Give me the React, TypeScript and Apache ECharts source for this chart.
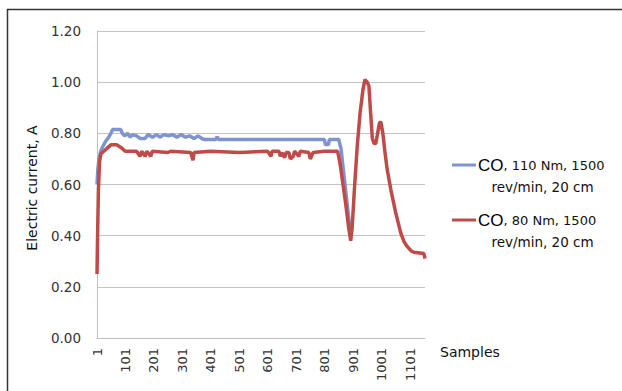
import React, { useEffect, useRef } from "react";
import * as echarts from "echarts";

// Tick labels / axis
const yTicks = [0, 0.2, 0.4, 0.6, 0.8, 1.0, 1.2];
const xLabelStep = 100;
const sampleCount = 1153;

// Series names (legend)
const seriesNames = ["CO, 110 Nm, 1500 rev/min, 20 cm", "CO, 80 Nm, 1500 rev/min, 20 cm"];
const legendMain = [", 110 Nm, 1500", ", 80 Nm, 1500"];
const legendSub = ["rev/min, 20 cm", "rev/min, 20 cm"];
const colors = ["#7F92D2", "#BE4B48"];

// Blue series: CO, 110 Nm
const blueSamples = [1, 4, 8, 14, 22, 32, 42, 50, 56, 84, 90, 98, 108, 118, 126, 140, 152, 170, 180, 196, 210, 222, 236, 252, 266, 282, 296, 312, 326, 342, 356, 372, 380, 418, 423, 428, 800, 803, 814, 817, 850, 858, 868, 878, 888, 893];
const blueValues = [0.6, 0.66, 0.7, 0.73, 0.75, 0.77, 0.785, 0.8, 0.815, 0.815, 0.8, 0.79, 0.8, 0.785, 0.795, 0.79, 0.78, 0.78, 0.795, 0.785, 0.795, 0.785, 0.795, 0.79, 0.795, 0.785, 0.795, 0.785, 0.79, 0.78, 0.79, 0.778, 0.776, 0.776, 0.786, 0.776, 0.776, 0.756, 0.756, 0.776, 0.776, 0.74, 0.64, 0.54, 0.44, 0.41];

// Red series: CO, 80 Nm
const redSamples = [1, 3, 6, 10, 15, 25, 40, 50, 70, 85, 95, 100, 140, 152, 158, 170, 176, 190, 195, 250, 260, 330, 338, 342, 400, 500, 600, 612, 616, 640, 645, 650, 660, 665, 675, 680, 690, 695, 710, 715, 745, 750, 760, 800, 846, 855, 865, 875, 885, 892, 897, 905, 915, 925, 935, 942, 950, 956, 962, 968, 974, 980, 985, 993, 998, 1005, 1012, 1020, 1033, 1050, 1068, 1080, 1091, 1105, 1114, 1149, 1153];
const redValues = [0.25, 0.4, 0.58, 0.69, 0.72, 0.73, 0.745, 0.755, 0.755, 0.745, 0.735, 0.73, 0.73, 0.71, 0.73, 0.71, 0.73, 0.71, 0.73, 0.725, 0.73, 0.725, 0.695, 0.725, 0.73, 0.725, 0.73, 0.71, 0.73, 0.73, 0.71, 0.725, 0.705, 0.725, 0.725, 0.7, 0.71, 0.73, 0.71, 0.73, 0.725, 0.7, 0.725, 0.73, 0.73, 0.68, 0.6, 0.52, 0.43, 0.38, 0.43, 0.58, 0.75, 0.88, 0.97, 1.01, 1.0, 0.985, 0.88, 0.78, 0.76, 0.76, 0.79, 0.84, 0.845, 0.8, 0.73, 0.66, 0.58, 0.49, 0.41, 0.375, 0.357, 0.34, 0.335, 0.33, 0.31];

const toData = (s: number[], v: number[]) => s.map((x, i) => [x - 1, v[i]]);

export default function App() {
  const ref = useRef<HTMLDivElement>(null);
  useEffect(() => {
    if (!ref.current) return;
    const chart = echarts.init(ref.current, undefined, { renderer: "svg" });
    const font = "DejaVu Sans";
    const legendY = [165, 220];
    const legendGraphics: any[] = [];
    seriesNames.forEach((_, i) => {
      legendGraphics.push({
        type: "line",
        shape: { x1: 452, y1: legendY[i], x2: 476, y2: legendY[i] },
        style: { stroke: colors[i], lineWidth: 3 },
      });
      legendGraphics.push({
        type: "text",
        x: 478,
        y: legendY[i],
        style: {
          text: "{co|CO}{t|" + legendMain[i] + "}",
          rich: {
            co: { fontFamily: "Liberation Sans", fontSize: 17, fill: "#000" },
            t: { fontFamily: font, fontSize: 13, fill: "#111" },
          },
          align: "left",
          verticalAlign: "middle",
        },
      });
      legendGraphics.push({
        type: "text",
        x: 542.5,
        y: legendY[i] + 22,
        style: {
          text: legendSub[i],
          fontFamily: font,
          fontSize: 13.5,
          fill: "#111",
          align: "center",
          verticalAlign: "middle",
        },
      });
    });
    chart.setOption({
      animation: false,
      backgroundColor: "#fff",
      grid: { left: 97, top: 31, right: 197, bottom: 53, containLabel: false },
      xAxis: {
        type: "value",
        min: 0,
        max: sampleCount - 1,
        interval: xLabelStep,
        axisLine: { show: true, lineStyle: { color: "#bfbfbf", width: 1 } },
        axisTick: { show: false },
        splitLine: { show: false },
        axisLabel: {
          rotate: 90,
          margin: 10,
          showMaxLabel: false,
          fontFamily: font,
          fontSize: 13,
          color: "#333",
          formatter: (v: number) => (v % xLabelStep === 0 ? String(v + 1) : ""),
        },
      },
      yAxis: {
        type: "value",
        min: yTicks[0],
        max: yTicks[yTicks.length - 1],
        interval: 0.2,
        axisLine: { show: true, lineStyle: { color: "#bfbfbf", width: 1 } },
        axisTick: { show: false },
        splitLine: { show: true, lineStyle: { color: "#c4c4c4", width: 1 } },
        axisLabel: {
          margin: 16,
          fontFamily: font,
          fontSize: 13.5,
          color: "#333",
          formatter: (v: number) => v.toFixed(2),
        },
      },
      series: [
        {
          name: seriesNames[0],
          type: "line",
          data: toData(blueSamples, blueValues),
          showSymbol: false,
          symbol: "none",
          lineStyle: { color: colors[0], width: 3.5 },
          z: 2,
        },
        {
          name: seriesNames[1],
          type: "line",
          data: toData(redSamples, redValues),
          showSymbol: false,
          symbol: "none",
          lineStyle: { color: colors[1], width: 3.5 },
          z: 3,
        },
      ],
      graphic: [
        {
          type: "rect",
          shape: { x: 7.5, y: 9.5, width: 800, height: 600 },
          style: { fill: "none", stroke: "#333", lineWidth: 1.5 },
          silent: true,
        },
        {
          type: "text",
          x: 32,
          y: 188,
          rotation: Math.PI / 2,
          style: {
            text: "Electric current, A",
            fontFamily: font,
            fontSize: 14,
            fill: "#111",
            align: "center",
            verticalAlign: "middle",
          },
        },
        {
          type: "text",
          x: 440,
          y: 352,
          style: {
            text: "Samples",
            fontFamily: font,
            fontSize: 14,
            fill: "#111",
            align: "left",
            verticalAlign: "middle",
          },
        },
        ...legendGraphics,
      ],
    });
    return () => chart.dispose();
  }, []);
  return (
    <div
      ref={ref}
      style={{ position: "fixed", left: 0, top: 0, width: 622, height: 391, background: "#fff" }}
    />
  );
}
